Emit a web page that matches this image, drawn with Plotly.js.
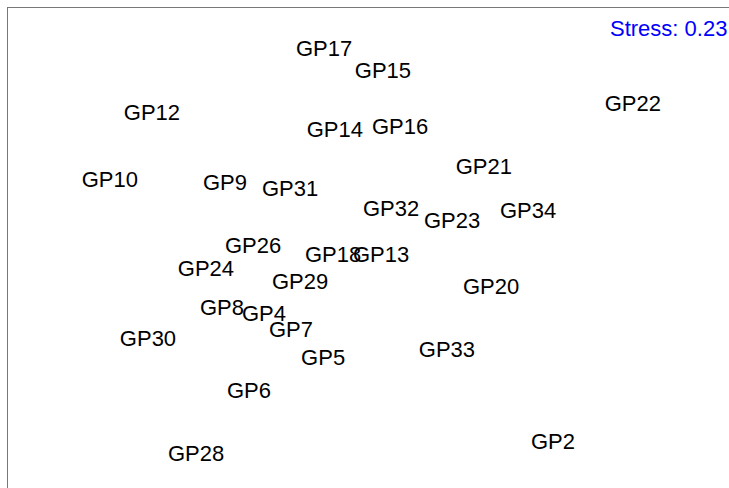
<!DOCTYPE html>
<html>
<head>
<meta charset="utf-8">
<script src="https://cdn.plot.ly/plotly-3.0.1.min.js"></script>
<style>html,body{margin:0;padding:0;background:#fff;}#chart{width:729px;height:488px;}</style>
</head>
<body>
<div id="chart"></div>
<script>
const sites = ["GP17","GP15","GP12","GP22","GP14","GP16","GP21","GP10","GP9","GP31","GP32","GP23","GP34","GP26","GP18","GP13","GP24","GP29","GP20","GP8","GP4","GP7","GP30","GP5","GP33","GP6","GP2","GP28"];
const nmds1 = [-0.148,0.048,-0.721,0.880,-0.112,0.105,0.384,-0.861,-0.478,-0.261,0.075,0.278,0.531,-0.384,-0.118,0.042,-0.541,-0.228,0.408,-0.488,-0.348,-0.258,-0.734,-0.151,0.261,-0.398,0.614,-0.574];
const nmds2 = [0.667,0.593,0.453,0.483,0.397,0.407,0.273,0.230,0.220,0.200,0.133,0.093,0.127,0.010,-0.020,-0.020,-0.067,-0.110,-0.127,-0.197,-0.217,-0.270,-0.300,-0.363,-0.337,-0.473,-0.643,-0.683];
const stressLabel = "Stress: 0.23";

const trace = {
  x: nmds1, y: nmds2, text: sites,
  mode: "text", type: "scatter",
  textposition: "middle center",
  textfont: {family: "Liberation Sans, Arial, sans-serif", size: 22, color: "#000"},
  hoverinfo: "text", showlegend: false
};
const layout = {
  width: 729, height: 488,
  margin: {l: 8, r: 0, t: 8, b: 0},
  paper_bgcolor: "#fff", plot_bgcolor: "#fff",
  xaxis: {range: [-1.2, 1.2], showgrid: false, zeroline: false, showticklabels: false, ticks: "", showline: true, side: "top", linecolor: "#777", linewidth: 1.5},
  yaxis: {range: [-0.7917, 0.8083], showgrid: false, zeroline: false, showticklabels: false, ticks: "", showline: true, linecolor: "#777", linewidth: 1.5},
  annotations: [{
    text: stressLabel, xref: "paper", yref: "paper", x: 1, y: 0.958,
    xanchor: "right", yanchor: "middle", showarrow: false,
    font: {family: "Liberation Sans, Arial, sans-serif", size: 22, color: "#0000ff"}
  }]
};
Plotly.newPlot("chart", [trace], layout, {displayModeBar: false, staticPlot: true});
</script>
</body>
</html>
